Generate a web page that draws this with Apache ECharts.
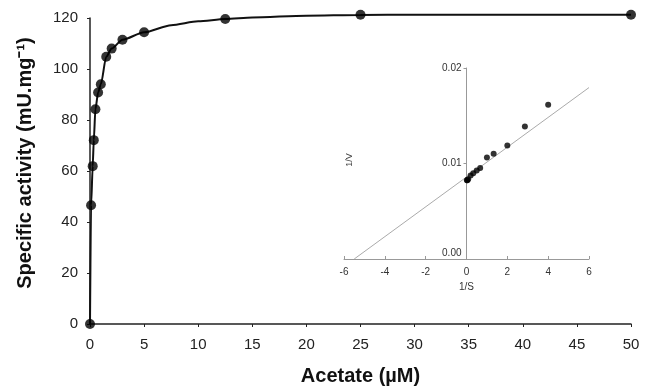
<!DOCTYPE html>
<html>
<head>
<meta charset="utf-8">
<script src="https://cdn.jsdelivr.net/npm/echarts@6/dist/echarts.min.js"></script>
<style>
html,body{margin:0;padding:0;background:#fff;}
#c{width:646px;height:391px;}
</style>
</head>
<body>
<div id="c"></div>
<script>
// Main plot: substrate (acetate, µM) vs specific activity (mU/mg)
const acetate = [0, 0.1, 0.25, 0.35, 0.5, 0.75, 1, 1.5, 2, 3, 5, 12.5, 25, 50];
const activity = [0, 46.6, 61.9, 72.1, 84.2, 90.8, 94.0, 104.8, 108.0, 111.5, 114.4, 119.6, 121.3, 121.3];
// Fitted curve (beyond the last steep points)
const curveX = [5, 7.5, 10, 12.5, 15, 20, 25, 30, 40, 50];
const curveY = [114.4, 117.2, 118.7, 119.6, 120.2, 120.9, 121.2, 121.3, 121.3, 121.3];
// Inset: Lineweaver-Burk plot
const invS = [0.02, 0.04, 0.08, 0.2, 0.33, 0.5, 0.67, 1.0, 1.33, 2.0, 2.86, 4.0];
const invV = [0.00824, 0.00824, 0.00836, 0.00874, 0.00897, 0.00926, 0.00954, 0.01064, 0.01101, 0.01188, 0.01387, 0.01616];
const fitLineX = [-5.5, 6];
const fitLineY = [0, 0.01795];

const zip = (a, b) => a.map((v, i) => [v, b[i]]);
const steepX = acetate.filter(v => v <= 5);
const steepY = activity.slice(0, steepX.length);
const lineData = zip(steepX, steepY).concat(zip(curveX.slice(1), curveY.slice(1)));

const font = 'Liberation Sans, Arial, sans-serif';
const insetLeft = 344, insetRight = 57, W = 646;
const insetZeroOffset = (W - insetRight - insetLeft) / 2; // y-axis sits at x = 0 (middle of -6..6)

const chart = echarts.init(document.getElementById('c'), null, {renderer: 'canvas'});
chart.setOption({
  animation: false,
  backgroundColor: '#fff',
  grid: [
    {left: 90, right: 15, top: 18, bottom: 64, containLabel: false},
    {left: insetLeft, right: insetRight, top: 68, bottom: 132, containLabel: false}
  ],
  xAxis: [
    {
      gridIndex: 0, type: 'value', min: 0, max: 50, interval: 5,
      name: 'Acetate (µM)', nameLocation: 'middle', nameGap: 42,
      nameTextStyle: {fontFamily: font, fontSize: 20, fontWeight: 'bold', color: '#111'},
      axisLine: {lineStyle: {color: '#222', width: 1.5}},
      axisTick: {show: true, length: 3, lineStyle: {color: '#222'}},
      axisLabel: {fontFamily: font, fontSize: 15, color: '#222', margin: 13},
      splitLine: {show: false}
    },
    {
      gridIndex: 1, type: 'value', min: -6, max: 6, interval: 2,
      name: '1/S', nameLocation: 'middle', nameGap: 23,
      nameTextStyle: {fontFamily: font, fontSize: 10, color: '#333'},
      axisLine: {onZero: false, lineStyle: {color: '#999', width: 1}},
      axisTick: {show: true, length: 3, inside: true, lineStyle: {color: '#999'}},
      axisLabel: {fontFamily: font, fontSize: 10, color: '#333', margin: 8},
      splitLine: {show: false}
    }
  ],
  yAxis: [
    {
      gridIndex: 0, type: 'value', min: 0, max: 120, interval: 20,
      name: 'Specific activity (mU.mg⁻¹)', nameLocation: 'middle', nameGap: 55,
      nameTextStyle: {fontFamily: font, fontSize: 20, fontWeight: 'bold', color: '#111', padding: [0, 0, 0, 16]},
      axisLine: {show: true, lineStyle: {color: '#222', width: 1.5}},
      axisTick: {show: true, length: 3, lineStyle: {color: '#222'}},
      axisLabel: {fontFamily: font, fontSize: 15, color: '#222', margin: 12},
      splitLine: {show: false}
    },
    {
      gridIndex: 1, type: 'value', min: 0, max: 0.02, interval: 0.01,
      position: 'left', offset: -insetZeroOffset,
      axisLine: {show: true, onZero: false, lineStyle: {color: '#999', width: 1}},
      axisTick: {show: true, length: 3, lineStyle: {color: '#999'}},
      axisLabel: {fontFamily: font, fontSize: 10, color: '#333', margin: 5,
        formatter: v => (v === 0 ? '{lo|' + v.toFixed(2) + '}' : v.toFixed(2)),
        rich: {lo: {fontFamily: font, fontSize: 10, color: '#333', padding: [0, 0, 12, 0]}}},
      splitLine: {show: false}
    }
  ],
  graphic: [
    {type: 'text', x: 350, y: 160, rotation: Math.PI / 2,
      style: {text: '1/V', fontFamily: font, fontSize: 9, fill: '#444', align: 'center', verticalAlign: 'middle'}}
  ],
  series: [
    {
      type: 'line', xAxisIndex: 0, yAxisIndex: 0, clip: false,
      data: lineData, smooth: 0.25, smoothMonotone: 'x', showSymbol: false,
      lineStyle: {color: '#111', width: 2}, z: 2
    },
    {
      type: 'scatter', xAxisIndex: 0, yAxisIndex: 0, clip: false,
      data: zip(acetate, activity), symbol: 'circle', symbolSize: 10,
      itemStyle: {color: '#000'}, z: 3
    },
    {
      type: 'line', xAxisIndex: 1, yAxisIndex: 1,
      data: zip(fitLineX, fitLineY), showSymbol: false,
      lineStyle: {color: '#aaa', width: 1}, z: 2
    },
    {
      type: 'scatter', xAxisIndex: 1, yAxisIndex: 1,
      data: zip(invS, invV), symbol: 'circle', symbolSize: 6,
      itemStyle: {color: '#000'}, z: 3
    }
  ]
});
</script>
</body>
</html>
